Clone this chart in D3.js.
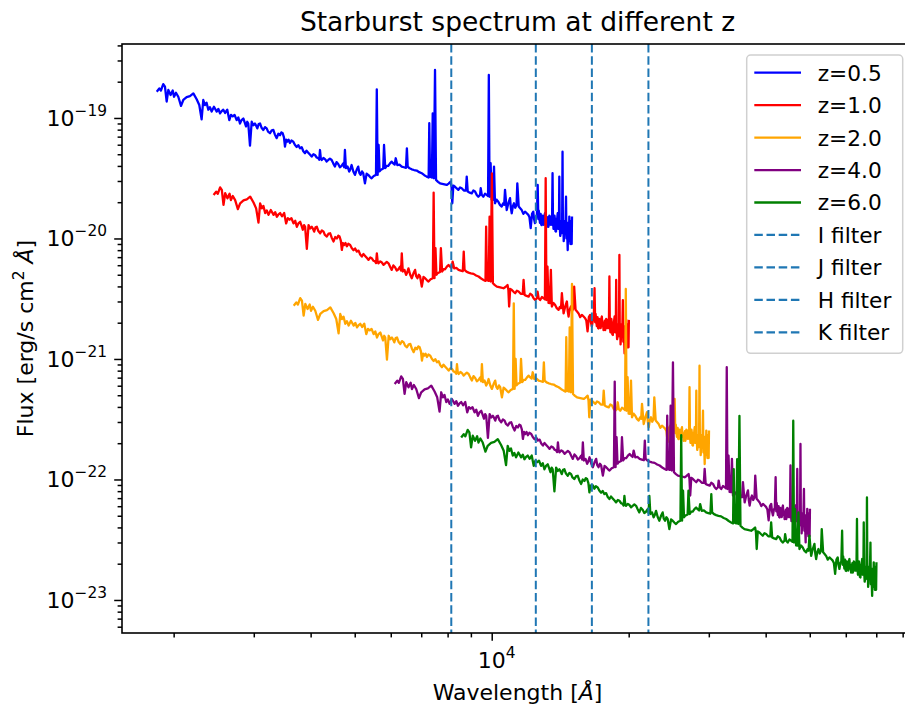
<!DOCTYPE html>
<html><head><meta charset="utf-8">
<script src="https://cdn.jsdelivr.net/npm/d3@7"></script>
<style>
body{margin:0;background:#fff}
svg{display:block}
text{font-family:"DejaVu Sans",sans-serif;fill:#000}
</style>
</head><body>
<svg id="c" width="905" height="709"></svg>
<script>
const templateSpectrum = [
[1224,16.5],[1240,17.6],[1250,16.9],[1265,19.1],[1276,18.2],[1287,13.7],[1298,17.1],[1313,15.5],[1327,16.9],[1336,15.0],
[1349,16.2],[1365,15.0],[1384,12.6],[1400,14.1],[1424,14.9],[1448,15.2],[1473,16.0],[1498,14.3],[1518,12.8],[1536,9.75],
[1549,14.1],[1562,12.8],[1575,13.4],[1589,11.7],[1602,12.3],[1616,11.3],[1635,12.4],[1658,11.3],[1672,11.9],[1686,10.9],
[1700,11.4],[1714,11.7],[1730,11.0],[1749,11.7],[1767,9.6],[1782,10.6],[1798,10.3],[1815,10.6],[1834,9.6],[1850,10.1],
[1865,9.0],[1880,9.6],[1897,9.9],[1910,9.2],[1923,8.5],[1935,9.3],[1945,9.0],[1962,5.9],[1979,9.3],[1995,8.7],
[2012,9.0],[2025,8.6],[2036,8.2],[2050,8.9],[2064,9.0],[2080,8.3],[2099,7.95],[2117,8.4],[2135,8.2],[2150,7.7],
[2171,7.47],[2190,7.9],[2208,7.95],[2225,7.3],[2246,6.8],[2265,7.4],[2284,7.2],[2300,7.6],[2315,7.47],[2330,6.9],
[2342,5.78],[2356,6.6],[2370,6.36],[2385,6.6],[2402,6.2],[2420,6.5],[2443,6.36],[2462,6.0],[2485,5.75],[2505,5.95],
[2527,5.6],[2549,5.71],[2570,5.3],[2592,5.1],[2612,5.35],[2635,5.15],[2660,4.95],[2681,4.78],[2705,5.0],[2726,4.93],
[2750,4.7],[2772,4.63],[2785,4.5],[2796,5.42],[2808,4.6],[2820,4.48],[2845,4.65],[2868,4.55],[2892,4.35],[2916,4.48],
[2940,4.6],[2966,4.48],[2990,4.2],[3015,3.95],[3040,4.3],[3066,4.15],[3092,3.9],[3119,4.0],[3145,4.2],[3160,3.9],
[3172,5.42],[3188,3.83],[3215,3.95],[3242,3.59],[3260,3.75],[3281,4.07],[3310,3.6],[3337,3.37],[3365,3.7],[3393,3.95],
[3412,3.5],[3434,3.37],[3458,3.6],[3480,3.48],[3510,2.87],[3540,3.45],[3569,3.37],[3600,3.25],[3631,3.16],[3670,3.3],
[3712,3.37],[3727,17.3],[3743,3.37],[3762,5.97],[3780,3.6],[3800,3.70],[3850,3.8],[3866,5.97],[3890,3.83],[3920,4.0],
[3950,4.0],[3985,4.2],[4019,4.34],[4050,4.2],[4080,4.1],[4102,4.63],[4135,4.07],[4180,4.1],[4228,3.95],[4275,3.9],
[4320,3.85],[4340,5.6],[4358,3.95],[4400,3.82],[4447,3.75],[4500,3.7],[4561,3.66],[4620,3.55],[4678,3.48],[4740,3.35],
[4798,3.26],[4845,3.2],[4861,9.04],[4880,3.26],[4925,3.2],[4946,10.9],[4975,3.16],[5004,25.0],[5030,3.06],[5080,2.95],
[5132,2.87],[5220,2.83],[5309,2.78],[5360,2.85],[5417,2.96],[5440,2.7],[5461,1.96],[5490,2.75],[5537,2.69],[5585,2.6],
[5631,2.53],[5680,2.65],[5728,2.61],[5790,2.5],[5850,2.5],[5875,3.26],[5905,2.45],[5965,2.4],[6026,2.37],[6075,2.5],
[6127,2.45],[6180,2.3],[6230,2.22],[6285,2.3],[6306,2.61],[6340,2.3],[6390,2.22],[6445,2.35],[6501,2.30],[6545,2.25],
[6570,22.75],[6595,2.22],[6630,4.21],[6665,2.1],[6710,2.09],[6745,3.95],[6779,1.96],[6835,2.1],[6893,2.02],[6950,1.9],
[7013,1.84],[7060,1.95],[7100,1.9],[7131,2.53],[7193,1.72],[7250,1.95],[7314,2.16],[7345,1.8],[7377,1.62],[7420,1.85],
[7463,1.96],[7510,1.8],[7560,1.9],[7589,2.87],[7643,1.84],[7700,1.78],[7760,1.72],[7825,1.6],[7891,1.67],[7960,1.62],
[8023,1.57],[8070,1.5],[8121,1.22],[8175,1.6],[8228,1.67],[8260,1.45],[8299,1.34],[8340,1.5],[8380,1.55],[8413,2.78],
[8440,1.45],[8460,1.7],[8481,1.52],[8510,1.35],[8540,1.6],[8565,1.3],[8585,1.29],[8610,1.55],[8630,1.35],[8650,1.45],
[8680,1.3],[8705,1.55],[8730,1.62],[8755,1.35],[8780,1.45],[8805,1.25],[8832,1.34],[8860,1.5],[8880,1.25],[8900,1.3],
[8925,1.55],[8954,1.52],[8985,1.3],[9020,1.45],[9045,1.3],[9070,3.48],[9090,1.4],[9115,1.2],[9137,1.34],[9160,1.55],
[9180,1.45],[9205,1.15],[9230,1.14],[9250,1.45],[9270,1.25],[9290,1.5],[9310,1.62],[9330,1.2],[9350,1.3],[9370,1.4],
[9386,3.26],[9405,1.3],[9430,1.05],[9453,1.10],[9475,1.4],[9500,1.2],[9520,1.3],[9540,5.25],[9560,1.1],[9580,1.35],
[9597,0.95],[9612,1.04],[9635,1.4],[9660,1.15],[9685,1.35],[9710,2.22],[9730,1.0],[9750,1.3],[9772,1.05],[9794,0.80],
[9812,1.35],[9830,1.2],[9850,0.95],[9873,1.52],[9890,1.05],[9910,1.3],[9928,0.9],[9944,1.00],[9960,1.4],[9975,1.15],
[9992,0.9],[10009,1.52]
];

const redshifts = [0.5, 1.0, 2.0, 4.0, 6.0];
const seriesLabels = ["z=0.5", "z=1.0", "z=2.0", "z=4.0", "z=6.0"];
const fluxScale = [1, 0.1389, 0.01675, 0.003753, 0.00135]; // relative to z=0.5
const seriesColors = ["blue", "red", "orange", "purple", "green"];
const filterNames = ["I filter", "J filter", "H filter", "K filter"];
const filterWavelengths = [8150, 12500, 16600, 22100];
const filterColor = "#1f77b4";
const yTickExponents = [-19, -20, -21, -22, -23];
const xTickExponents = [4];

const svg = d3.select("#c");
const L = 122, R = 913, T = 44, B = 633;
const x = d3.scaleLog().domain([1540, 84300]).range([L, R]);
const y = d3.scaleLog().domain([5.32e-24, 4.11e-19]).range([B, T]);

// spectra
const line = d3.line().x(d => x(d[0])).y(d => y(d[1]));
redshifts.forEach((z, i) => {
  const pts = templateSpectrum.map(p => [p[0] * (1 + z), p[1] * 1e-20 * fluxScale[i]]);
  svg.append("path").datum(pts).attr("d", line)
    .attr("fill", "none").attr("stroke", seriesColors[i]).attr("stroke-width", 2.3)
    .attr("stroke-linejoin", "round");
});

// filter lines
filterWavelengths.forEach(w => {
  svg.append("line").attr("x1", x(w)).attr("x2", x(w)).attr("y1", T).attr("y2", B)
    .attr("stroke", filterColor).attr("stroke-width", 2).attr("stroke-dasharray", "8.5,3.7");
});

// axes
function minors(lo, hi) {
  const out = [];
  for (let e = lo; e <= hi; e++) for (let m = 2; m <= 9; m++) out.push(m * Math.pow(10, e));
  return out;
}
const xMin = minors(3, 4).filter(v => v > 1540 && v < 84300);
const yMin = minors(-24, -19).filter(v => v > 5.32e-24 && v < 4.11e-19);

const gx = svg.append("g").attr("transform", `translate(0,${B})`);
gx.call(d3.axisBottom(x).tickValues(xMin).tickSize(4.4).tickFormat(""));
gx.append("g").call(d3.axisBottom(x).tickValues(xTickExponents.map(e => Math.pow(10, e))).tickSize(7.8).tickFormat(""));
const gy = svg.append("g").attr("transform", `translate(${L},0)`);
gy.call(d3.axisLeft(y).tickValues(yMin).tickSize(4.4).tickFormat(""));
gy.append("g").call(d3.axisLeft(y).tickValues(yTickExponents.map(e => Math.pow(10, e))).tickSize(7.8).tickFormat(""));
svg.selectAll(".domain").remove();
svg.selectAll(".tick line").attr("stroke", "#000").attr("stroke-width", 1.5);

// tick labels with superscripts
function supLabel(g, xx, yy, exp, anchor) {
  const t = g.append("text").attr("x", xx).attr("y", yy).attr("text-anchor", anchor).style("font-size", "22px");
  t.append("tspan").text("10");
  t.append("tspan").attr("dy", -10).style("font-size", "15.4px").text(String(exp).replace("-", "\u2212"));
}
yTickExponents.forEach(e => supLabel(svg, 107, y(Math.pow(10, e)) + 8, e, "end"));
xTickExponents.forEach(e => supLabel(svg, x(Math.pow(10, e)) + 5, 668, e, "middle"));

// spines
svg.append("rect").attr("x", L).attr("y", T).attr("width", R - L).attr("height", B - T)
  .attr("fill", "none").attr("stroke", "#000").attr("stroke-width", 1.6);

// title and axis labels
svg.append("text").attr("x", (L + R) / 2).attr("y", 31).attr("text-anchor", "middle")
  .style("font-size", "26.5px").text("Starburst spectrum at different z");
const xl = svg.append("text").attr("x", (L + R) / 2).attr("y", 700).attr("text-anchor", "middle").style("font-size", "22px");
xl.append("tspan").text("Wavelength [");
xl.append("tspan").style("font-style", "italic").text("Å");
xl.append("tspan").text("]");
const yl = svg.append("text").attr("transform", `translate(33,${(T + B) / 2}) rotate(-90)`)
  .attr("text-anchor", "middle").style("font-size", "22px");
yl.append("tspan").text("Flux [erg/s cm");
yl.append("tspan").attr("dy", -9).style("font-size", "15.4px").text("2");
yl.append("tspan").attr("dy", 9).text(" ");
yl.append("tspan").style("font-style", "italic").text("Å");
yl.append("tspan").text("]");

// legend
const legendItems = seriesLabels.map((l, i) => ({label: l, color: seriesColors[i], dash: null}))
  .concat(filterNames.map(n => ({label: n, color: filterColor, dash: "8.5,3.7"})));
const lg = svg.append("g");
lg.append("rect").attr("x", 746.7).attr("y", 55).attr("width", 156).attr("height", 298.3)
  .attr("rx", 4).attr("fill", "#fff").attr("fill-opacity", 0.8).attr("stroke", "#d0d0d0").attr("stroke-width", 1.5);
legendItems.forEach((it, i) => {
  const ry = 72.7 + i * 32.45;
  lg.append("line").attr("x1", 754.3).attr("x2", 801).attr("y1", ry).attr("y2", ry)
    .attr("stroke", it.color).attr("stroke-width", 2.3).attr("stroke-dasharray", it.dash);
  lg.append("text").attr("x", 817.7).attr("y", ry + 7.9).style("font-size", "21.7px").text(it.label);
});
</script>
</body></html>
